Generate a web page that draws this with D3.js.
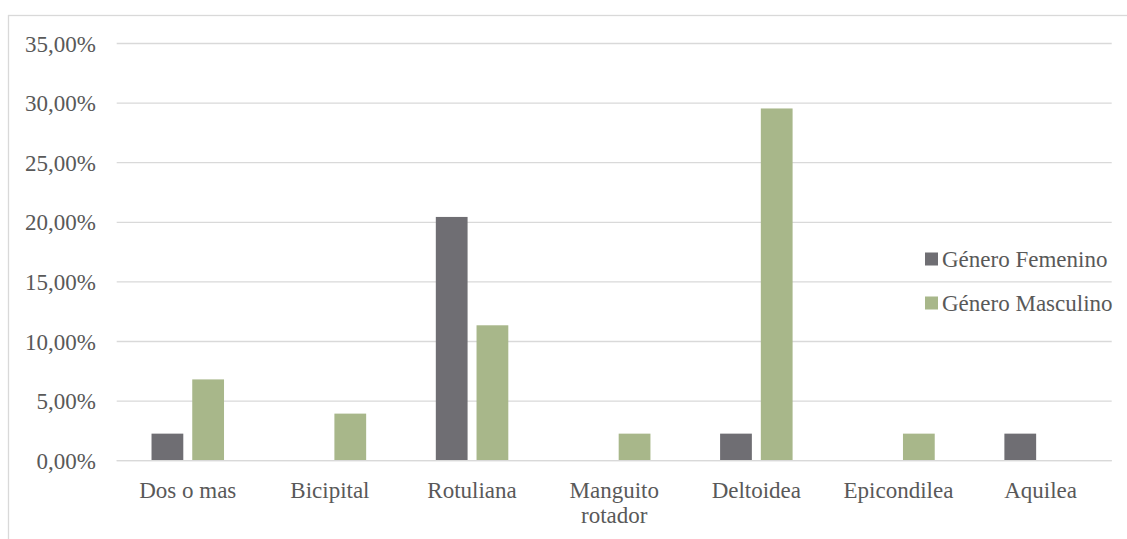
<!DOCTYPE html>
<html>
<head>
<meta charset="utf-8">
<script src="https://cdn.jsdelivr.net/npm/d3@7"></script>
<style>
  html, body { margin: 0; padding: 0; background: #ffffff; }
  svg { display: block; }
</style>
</head>
<body>
<svg id="chart" width="1127" height="539"></svg>
<script>
const categories = ["Dos o mas", "Bicipital", "Rotuliana", "Manguito rotador", "Deltoidea", "Epicondilea", "Aquilea"];
const seriesNames = ["Género Femenino", "Género Masculino"];
const femenino = [2.27, 0, 20.45, 0, 2.27, 0, 2.27];
const masculino = [6.82, 3.95, 11.36, 2.27, 29.55, 2.27, 0];
const yTicks = [0, 5, 10, 15, 20, 25, 30, 35];
const colors = ["#6f6e73", "#a8b78a"];

const FONT = "'Liberation Serif'";
const FS = "23px";
const TEXT = "#595959";

const svg = d3.select("#chart");
const W = 1127, H = 539;
const plot = { left: 116.7, right: 1111.7, top: 43.5, bottom: 460.7 };

// outer chart border (extends past right/bottom edge)
svg.append("rect")
  .attr("x", 8.5).attr("y", 15.5)
  .attr("width", W + 20).attr("height", H + 20)
  .attr("fill", "none").attr("stroke", "#d9d9d9").attr("stroke-width", 1.3);

const x0 = d3.scaleBand().domain(categories).range([plot.left, plot.right])
  .paddingInner(0.49).paddingOuter(0.245);
const x1 = d3.scaleBand().domain(seriesNames).range([0, x0.bandwidth()])
  .paddingInner(0.22).paddingOuter(0);
const y = d3.scaleLinear().domain([0, 35]).range([plot.bottom, plot.top]);

const fmt = v => v.toFixed(2).replace(".", ",") + "%";

// gridlines
svg.append("g").selectAll("line").data(yTicks).join("line")
  .attr("x1", plot.left).attr("x2", plot.right)
  .attr("y1", d => y(d)).attr("y2", d => y(d))
  .attr("stroke", "#d9d9d9").attr("stroke-width", 1.3);

// y tick labels
svg.append("g").selectAll("text").data(yTicks).join("text")
  .attr("x", 96).attr("y", d => y(d)).attr("dy", "0.35em")
  .attr("text-anchor", "end")
  .style("font-family", FONT).style("font-size", FS).style("fill", TEXT)
  .text(fmt);

// bars
const table = categories.map((c, i) => ({ cat: c, vals: [femenino[i], masculino[i]] }));
const groups = svg.append("g").selectAll("g").data(table).join("g")
  .attr("transform", d => `translate(${x0(d.cat)},0)`);
groups.selectAll("rect").data(d => d.vals.map((v, j) => ({ s: seriesNames[j], v, j })))
  .join("rect")
  .filter(d => d.v > 0)
  .attr("x", d => x1(d.s)).attr("width", x1.bandwidth())
  .attr("y", d => y(d.v)).attr("height", d => y(0) - y(d.v))
  .attr("fill", d => colors[d.j]);

// x axis line
svg.append("line")
  .attr("x1", plot.left).attr("x2", plot.right)
  .attr("y1", y(0)).attr("y2", y(0))
  .attr("stroke", "#d9d9d9").attr("stroke-width", 1.3);

// category labels
const xl = svg.append("g").selectAll("text").data(categories).join("text")
  .attr("x", d => x0(d) + x0.bandwidth() / 2)
  .attr("y", 498)
  .attr("text-anchor", "middle")
  .style("font-family", FONT).style("font-size", FS).style("fill", TEXT);
xl.each(function(d) {
  const t = d3.select(this);
  const parts = d === "Manguito rotador" ? ["Manguito", "rotador"] : [d];
  parts.forEach((p, i) => {
    t.append("tspan").attr("x", x0(d) + x0.bandwidth() / 2)
      .attr("dy", i === 0 ? 0 : 25).text(p);
  });
});

// legend
const legY = [259, 303];
const leg = svg.append("g").selectAll("g").data(seriesNames).join("g")
  .attr("transform", (d, i) => `translate(925,${legY[i]})`);
leg.append("rect").attr("x", 0).attr("y", -6.5).attr("width", 13).attr("height", 13)
  .attr("fill", (d, i) => colors[i]);
leg.append("text").attr("x", 17).attr("y", 0).attr("dy", "0.35em")
  .style("font-family", FONT).style("font-size", FS).style("fill", TEXT)
  .text(d => d);
</script>
</body>
</html>
